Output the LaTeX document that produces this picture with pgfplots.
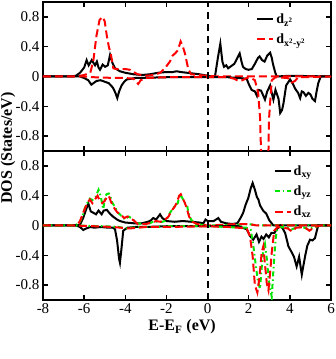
\documentclass[border=0pt]{standalone}
\usepackage{fontspec}
\setmainfont{Liberation Serif}
\usepackage{pgfplots}
\pgfplotsset{compat=1.18}
\definecolor{dgreen}{RGB}{0,230,0}

\pgfplotsset{dosax/.style={
  scale only axis, width=288pt, height=149pt,
  xmin=-8, xmax=6, ymin=-1, ymax=1,
  xtick={-8,-6,...,6}, ytick={-0.8,-0.4,0,0.4,0.8},
  axis line style={line width=1.6pt},
  major tick length=5pt,
  tick style={line width=1.3pt, black},
  tick label style={font=\fontsize{15}{17}\selectfont},
  /pgf/number format/assume math mode=true,
  /pgf/number format/fixed,
  legend style={draw=none, fill=none, font=\fontsize{14}{16}\selectfont\bfseries,
    legend cell align=left, row sep=5pt},
  legend image code/.code={\draw[#1] (0pt,0pt) -- (16pt,0pt);},
},
upblk/.style={black, line width=2pt},
grdash/.style={dgreen, line width=2pt, dash pattern=on 5pt off 3pt on 1.5pt off 3pt},
rddash/.style={red, line width=2pt, dash pattern=on 8pt off 4pt},
fermi/.style={black, line width=2pt, dash pattern=on 7pt off 5pt, forget plot},
}

\begin{document}
\begin{tikzpicture}
% bottom panel: d_xy, d_yz, d_xz
\begin{axis}[dosax, at={(0pt,0pt)}, anchor=south west,
  xlabel={\bfseries E-E\textsubscript{F} (eV)},
  every axis x label/.style={at={(axis description cs:0.483,-0.18)}, anchor=center, font=\fontsize{16}{18}\selectfont},
  ylabel={\bfseries DOS (States/eV)},
  every axis y label/.style={at={(axis description cs:-0.1215,1.02)}, rotate=90, anchor=center, font=\fontsize{16}{18}\selectfont},
  legend style={at={(0.79,0.93)}, anchor=north west},
]
\addplot[upblk] coordinates {
(-8,0) (-6.4,0) (-6.2,0.01) (-6.05,0.1) (-5.91,0.21) (-5.8,0.3) (-5.68,0.19) (-5.55,0.17)
(-5.42,0.15) (-5.3,0.2) (-5.15,0.15) (-5.05,0.2) (-4.9,0.21) (-4.75,0.16) (-4.6,0.12)
(-4.4,0.08) (-4.26,0.06) (-4.0,0.04) (-3.6,0.03) (-3.2,0.03) (-2.9,0.05) (-2.75,0.07)
(-2.64,0.1) (-2.5,0.08) (-2.31,0.15) (-2.2,0.1) (-2.0,0.06) (-1.6,0.05) (-1.2,0.06)
(-0.8,0.05) (-0.4,0.04) (-0.2,0.03) (-0.1,0.08) (0.0,0.06) (0.3,0.06) (0.52,0.1)
(0.65,0.05) (0.9,0.03) (1.2,0.02) (1.45,0.03) (1.6,0.1) (1.73,0.17) (1.85,0.28)
(1.98,0.37) (2.1,0.5) (2.19,0.57) (2.3,0.48) (2.4,0.38) (2.47,0.35) (2.55,0.27)
(2.7,0.2) (2.85,0.16) (3.0,0.07) (3.2,0.0) (6,0)
};
\addlegendentry{d\textsubscript{xy}}
\addplot[grdash] coordinates {
(-8,0) (-6.5,0) (-6.3,0.02) (-6.2,0.05) (-6.05,0.15) (-5.96,0.24) (-5.85,0.3) (-5.72,0.36)
(-5.6,0.34) (-5.45,0.38) (-5.3,0.48) (-5.2,0.4) (-5.07,0.22) (-4.98,0.38) (-4.91,0.42)
(-4.8,0.43) (-4.74,0.4) (-4.62,0.3) (-4.5,0.25) (-4.35,0.17) (-4.15,0.12) (-4.01,0.08)
(-3.85,0.12) (-3.7,0.1) (-3.55,0.06) (-3.44,0.03) (-3.1,0.02) (-2.8,0.03) (-2.6,0.06)
(-2.45,0.05) (-2.2,0.05) (-2.07,0.06) (-1.95,0.1) (-1.83,0.17) (-1.7,0.22) (-1.58,0.27)
(-1.45,0.3) (-1.34,0.42) (-1.25,0.38) (-1.1,0.3) (-1.0,0.28) (-0.94,0.18) (-0.8,0.08)
(-0.6,0.02) (-0.3,0.01) (0,0.0) (1.5,0.01) (2.0,0.02) (2.4,0.0) (6,0)
};
\addlegendentry{d\textsubscript{yz}}
\addplot[rddash] coordinates {
(-8,0) (-6.5,0) (-6.3,0.02) (-6.2,0.06) (-6.05,0.17) (-5.96,0.23) (-5.85,0.3) (-5.72,0.35)
(-5.6,0.3) (-5.45,0.36) (-5.35,0.4) (-5.25,0.34) (-5.12,0.3) (-5.0,0.33) (-4.9,0.38)
(-4.8,0.4) (-4.7,0.32) (-4.55,0.24) (-4.4,0.18) (-4.2,0.14) (-4.05,0.1) (-3.9,0.12)
(-3.75,0.1) (-3.55,0.06) (-3.4,0.02) (-3.0,0.02) (-2.7,0.04) (-2.5,0.06) (-2.3,0.05)
(-2.1,0.07) (-1.9,0.12) (-1.75,0.2) (-1.6,0.25) (-1.48,0.32) (-1.38,0.4) (-1.3,0.42)
(-1.2,0.36) (-1.1,0.3) (-1.0,0.22) (-0.9,0.12) (-0.75,0.05) (-0.5,0.02) (0,0.0)
(1.5,0.02) (2.0,0.02) (2.4,0.0) (6,0)
};
\addlegendentry{d\textsubscript{xz}}
\addplot[upblk, forget plot] coordinates {
(-8,0) (-6.4,0) (-6.2,-0.02) (-6.04,-0.06) (-5.9,-0.04) (-5.7,-0.02) (-5.5,-0.03)
(-5.2,-0.02) (-4.8,-0.03) (-4.6,-0.03) (-4.5,-0.05) (-4.4,-0.2) (-4.3,-0.45) (-4.26,-0.5)
(-4.2,-0.35) (-4.1,-0.07) (-3.9,-0.03) (-3.5,-0.02) (-3.0,-0.02) (-2.0,-0.01) (0,-0.01)
(1.5,-0.01) (1.9,-0.05) (2.06,-0.14) (2.22,-0.19) (2.38,-0.12) (2.5,-0.22) (2.62,-0.15)
(2.72,-0.18) (2.85,-0.12) (2.98,-0.16) (3.1,-0.1) (3.25,-0.1) (3.36,-0.05) (3.53,0)
(3.65,-0.04) (3.77,-0.1) (3.93,-0.28) (4.09,-0.36) (4.2,-0.42) (4.33,-0.55) (4.45,-0.42)
(4.58,-0.66) (4.65,-0.55) (4.75,-0.4) (4.85,-0.27) (4.98,-0.19) (5.1,-0.2) (5.22,-0.17)
(5.3,-0.08) (5.38,0) (6,0)
};
\addplot[grdash, forget plot] coordinates {
(-8,0) (-6.5,0) (-5,-0.01) (-4.3,-0.02) (-4.0,-0.04) (-3.7,-0.03) (-3.3,-0.02) (-2.5,-0.02)
(-2.0,-0.01) (0,-0.01) (1.0,-0.02) (1.5,-0.03) (1.9,-0.03) (2.1,-0.06) (2.22,-0.26)
(2.35,-0.55) (2.45,-0.75) (2.55,-0.85) (2.62,-0.6) (2.7,-0.35) (2.79,-0.25) (2.88,-0.45)
(2.98,-0.75) (3.12,-0.96) (3.2,-0.6) (3.3,-0.2) (3.36,-0.07) (3.5,-0.02) (3.9,-0.03)
(4.1,-0.05) (4.3,-0.03) (4.6,-0.02) (4.9,-0.05) (5.1,-0.03) (5.5,0) (6,0)
};
\addplot[rddash, forget plot] coordinates {
(-8,0) (-6.5,0) (-5.5,-0.01) (-4.6,-0.02) (-4.2,-0.03) (-3.8,-0.04) (-3.4,-0.03)
(-3.0,-0.02) (-2.0,-0.02) (0,-0.01) (1.0,-0.02) (1.5,-0.03) (1.9,-0.04) (2.06,-0.14)
(2.19,-0.41) (2.3,-0.8) (2.42,-0.9) (2.52,-0.7) (2.63,-0.36) (2.71,-0.28) (2.8,-0.55)
(2.88,-0.78) (2.96,-0.87) (3.05,-0.6) (3.12,-0.36) (3.24,-0.07) (3.4,-0.02) (3.9,-0.04)
(4.1,-0.08) (4.3,-0.03) (4.7,-0.02) (4.95,-0.07) (5.2,-0.02) (5.5,0) (6,0)
};
\addplot[fermi] coordinates {(0,-1) (0,1)};
\node[font=\fontsize{16}{18}\selectfont\bfseries] at (axis description cs:0.5,-0.33) {(b)};
\end{axis}

% top panel: d_z2, d_x2-y2
\begin{axis}[dosax, at={(0pt,149pt)}, anchor=south west,
  xticklabels={},
  legend style={at={(0.73,0.95)}, anchor=north west},
]
\addplot[upblk] coordinates {
(-8,0) (-6.6,0) (-6.4,0.01) (-6.2,0.05) (-6.0,0.12) (-5.88,0.22) (-5.78,0.15) (-5.63,0.22)
(-5.47,0.15) (-5.38,0.2) (-5.3,0.12) (-5.23,0.09) (-5.1,0.16) (-4.98,0.13) (-4.85,0.15)
(-4.74,0.29) (-4.62,0.18) (-4.5,0.11) (-4.26,0.07) (-4.0,0.05) (-3.6,0.03) (-3.2,0.02)
(-2.8,0.03) (-2.4,0.05) (-2.0,0.06) (-1.7,0.06) (-1.5,0.07) (-1.3,0.06) (-1.0,0.05)
(-0.7,0.04) (-0.4,0.03) (-0.2,0.02) (0,0.01) (0.2,0.0) (0.36,0.0) (0.5,0.25) (0.62,0.44)
(0.72,0.2) (0.8,0.13) (0.91,0.15) (1.0,0.11) (1.1,0.13) (1.3,0.17) (1.45,0.25) (1.56,0.31)
(1.65,0.2) (1.72,0.13) (1.85,0.1) (1.99,0.09) (2.15,0.1) (2.3,0.17) (2.45,0.25) (2.53,0.27)
(2.65,0.22) (2.77,0.2) (2.9,0.28) (3.04,0.32) (3.12,0.25) (3.17,0.18) (3.28,0.06)
(3.36,0.0) (4.0,0.01) (6,0)
};
\addlegendentry{d\textsubscript{z\textsuperscript{2}}}
\addplot[rddash] coordinates {
(-8,0) (-6.4,0) (-6.0,0.02) (-5.7,0.05) (-5.55,0.22) (-5.4,0.55) (-5.25,0.76) (-5.1,0.8)
(-5.0,0.74) (-4.9,0.55) (-4.8,0.4) (-4.71,0.31) (-4.58,0.11) (-4.4,0.1) (-4.0,0.1)
(-3.77,0.09) (-3.6,0.06) (-3.4,0.03) (-3.0,0.01) (-2.6,0.02) (-2.3,0.05) (-2.05,0.12)
(-1.83,0.2) (-1.7,0.28) (-1.58,0.31) (-1.45,0.35) (-1.31,0.47) (-1.2,0.4) (-1.1,0.31)
(-0.94,0.1) (-0.8,0.03) (-0.5,0.02) (0,0.01) (0.5,0) (6,0)
};
\addlegendentry{d\textsubscript{x\textsuperscript{2}-y\textsuperscript{2}}}
\addplot[upblk, forget plot] coordinates {
(-8,0) (-6.2,0) (-6.0,-0.02) (-5.8,-0.05) (-5.65,-0.11) (-5.55,-0.09) (-5.4,-0.06)
(-5.2,-0.05) (-5.0,-0.07) (-4.8,-0.09) (-4.6,-0.15) (-4.48,-0.22) (-4.39,-0.29) (-4.3,-0.2)
(-4.18,-0.12) (-4.05,-0.07) (-3.93,-0.04) (-3.5,-0.02) (-2.0,-0.01) (0,-0.01) (1.0,-0.01)
(1.5,-0.02) (1.9,-0.03) (2.0,-0.1) (2.14,-0.18) (2.3,-0.2) (2.4,-0.26) (2.47,-0.18)
(2.6,-0.19) (2.79,-0.31) (2.9,-0.2) (3.04,-0.12) (3.12,-0.22) (3.2,-0.31) (3.3,-0.18)
(3.45,-0.3) (3.53,-0.49) (3.62,-0.45) (3.69,-0.36) (3.82,-0.12) (4.01,-0.04) (4.15,-0.1)
(4.25,-0.16) (4.4,-0.22) (4.5,-0.29) (4.58,-0.2) (4.66,-0.21) (4.78,-0.26) (4.9,-0.22)
(5.0,-0.24) (5.1,-0.3) (5.22,-0.33) (5.3,-0.2) (5.38,-0.09) (5.5,0) (6,0)
};
\addplot[rddash, forget plot] coordinates {
(-8,0) (-6,0) (-5.5,-0.01) (-4.5,-0.02) (-4.0,-0.02) (-3.6,-0.03) (-3.45,-0.08)
(-3.37,-0.1) (-3.25,-0.05) (-3.0,-0.02) (-2.0,-0.01) (0,-0.01) (1.0,-0.01) (1.3,-0.03)
(1.5,-0.06) (1.7,-0.05) (1.9,-0.02) (2.1,-0.02) (2.3,-0.05) (2.46,-0.22) (2.55,-0.55)
(2.62,-1.2) (2.95,-1.2) (2.98,-0.6) (3.04,-0.35) (3.12,-0.05) (3.3,-0.01) (3.9,-0.02)
(4.1,-0.08) (4.25,-0.06) (4.4,-0.01) (6,0)
};
\addplot[fermi] coordinates {(0,-1) (0,1)};
\end{axis}
\pgfresetboundingbox
\path (-43pt,-59pt) rectangle (293pt,300pt);
\end{tikzpicture}
\end{document}
